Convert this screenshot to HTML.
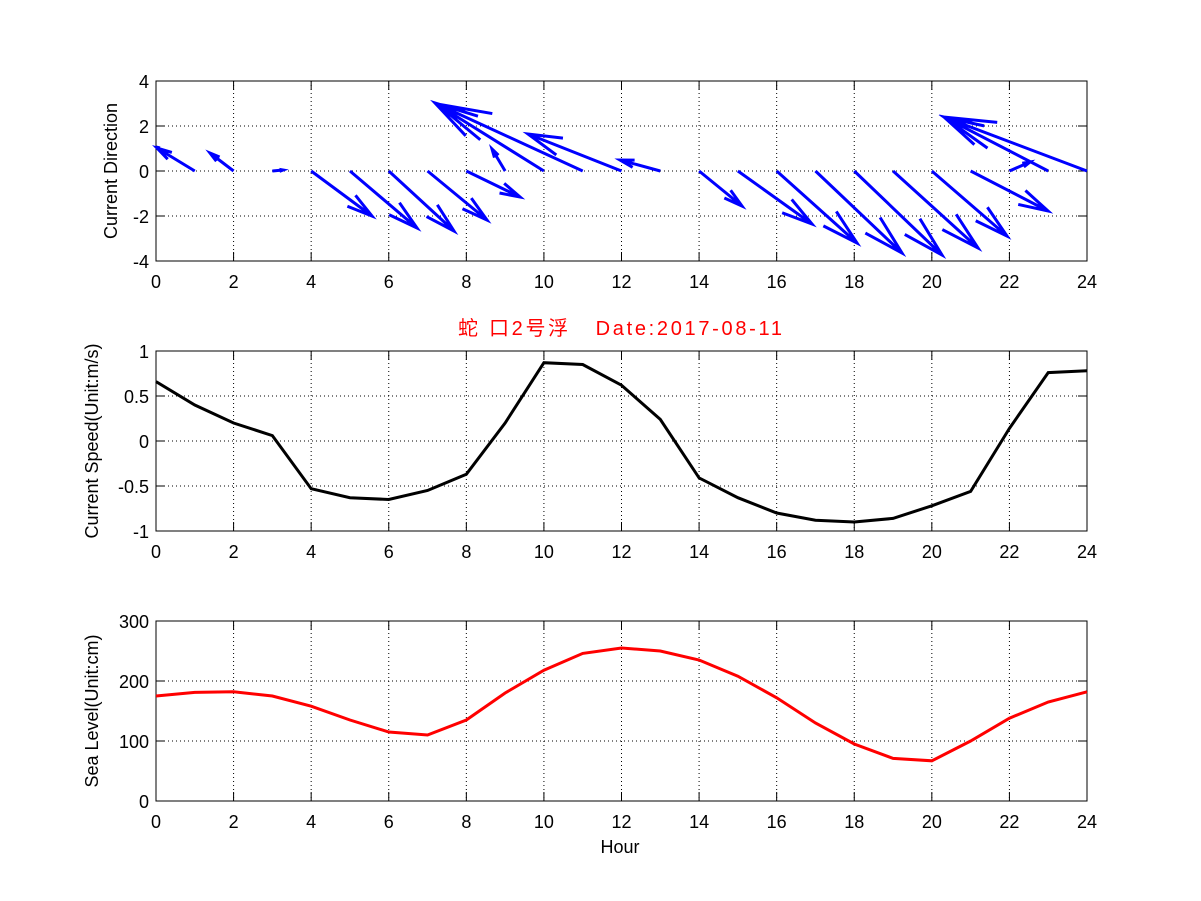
<!DOCTYPE html>
<html><head><meta charset="utf-8"><style>body{margin:0;background:#fff}svg{display:block}</style></head>
<body>
<svg id="s" width="1201" height="901" xmlns="http://www.w3.org/2000/svg" font-family="Liberation Sans, sans-serif" font-size="18"></svg>
<script>
const s=document.getElementById('s');let h='<rect width="1201" height="901" fill="#fff"/>';
const L=156,R=1087,W=R-L;const X=t=>L+t*W/24;
function axes(top,bot,ymin,ymax,ystep,ylabel,ly){
 for(let t=2;t<24;t+=2)h+=`<line x1="${X(t)}" y1="${top}" x2="${X(t)}" y2="${bot}" stroke="#000" stroke-dasharray="1,3"/>`;
 for(let v=ymin+ystep;v<ymax-1e-9;v+=ystep){const y=bot-(v-ymin)/(ymax-ymin)*(bot-top);h+=`<line x1="${L}" y1="${y}" x2="${R}" y2="${y}" stroke="#000" stroke-dasharray="1,3"/>`;}
 h+=`<rect x="${L}" y="${top}" width="${W}" height="${bot-top}" fill="none" stroke="#000"/>`;
 for(let t=0;t<=24;t+=2){h+=`<line x1="${X(t)}" y1="${bot}" x2="${X(t)}" y2="${bot-9}" stroke="#000"/><line x1="${X(t)}" y1="${top}" x2="${X(t)}" y2="${top+9}" stroke="#000"/><text x="${X(t)}" y="${bot+27}" text-anchor="middle">${t}</text>`;}
 for(let v=ymin;v<=ymax+1e-9;v+=ystep){const y=bot-(v-ymin)/(ymax-ymin)*(bot-top);const lab=Math.round(v*10)/10;h+=`<line x1="${L}" y1="${y}" x2="${L+9}" y2="${y}" stroke="#000"/><line x1="${R}" y1="${y}" x2="${R-9}" y2="${y}" stroke="#000"/><text x="${L-7}" y="${y+7}" text-anchor="end">${lab}</text>`;}
 h+=`<text transform="translate(${ly},${(top+bot)/2}) rotate(-90)" text-anchor="middle">${ylabel}</text>`;
}
axes(81,261,-4,4,2,'Current Direction',117);
axes(351,531,-1,1,0.5,'Current Speed(Unit:m/s)',98);
axes(621,801,0,300,100,'Sea Level(Unit:cm)',98);
const tips=[[1,157,148],[2,210,153],[3,283,170],[4,372,216],[5,417,228],[6,454,231],[7,487,220],[8,520,197],[9,492,149],[10,435,103],[11,437,104],[12,528,134],[13,620,160],[14,742,206],[15,812,224],[16,857,243],[17,902,253],[18,942,255],[19,978,248],[20,1007,236],[21,1048,211],[22,1030,162],[23,944,117],[24,944,117]];
let q='';
for(const [t,tx,ty] of tips){const x0=X(t),y0=171;const dx=tx-x0,dy=ty-y0;const len=Math.hypot(dx,dy);const a=Math.atan2(dy,dx);const hl=len*0.35,ang=0.26;
 q+=`M${x0} ${y0}L${tx} ${ty}M${tx-hl*Math.cos(a-ang)} ${ty-hl*Math.sin(a-ang)}L${tx} ${ty}L${tx-hl*Math.cos(a+ang)} ${ty-hl*Math.sin(a+ang)}`;}
q+=`M156 147L160 148`;
h+=`<path d="${q}" stroke="#0000ff" stroke-width="3" fill="none"/>`;
const sp=[0.66,0.4,0.2,0.06,-0.53,-0.63,-0.65,-0.55,-0.37,0.2,0.87,0.85,0.62,0.24,-0.41,-0.63,-0.8,-0.88,-0.9,-0.86,-0.72,-0.56,0.14,0.76,0.78];
h+=`<polyline fill="none" stroke="#000" stroke-width="3" points="${sp.map((v,i)=>X(i)+','+(441-v*90)).join(' ')}"/>`;
const sl=[175,181,182,175,158,135,115,110,135,180,218,246,255,250,235,208,172,130,95,71,67,100,138,165,182];
h+=`<polyline fill="none" stroke="#ff0000" stroke-width="3" points="${sl.map((v,i)=>X(i)+','+(801-v*0.6)).join(' ')}"/>`;
h+=`<text x="458" y="335" textLength="324" lengthAdjust="spacing" fill="#ff0000" font-size="20" font-family="Liberation Sans, Noto Sans CJK SC, sans-serif" xml:space="preserve">蛇 口2号浮   Date:2017-08-11</text>`;
h+=`<text x="620" y="853" text-anchor="middle">Hour</text>`;
s.innerHTML=h;
</script>
</body></html>
